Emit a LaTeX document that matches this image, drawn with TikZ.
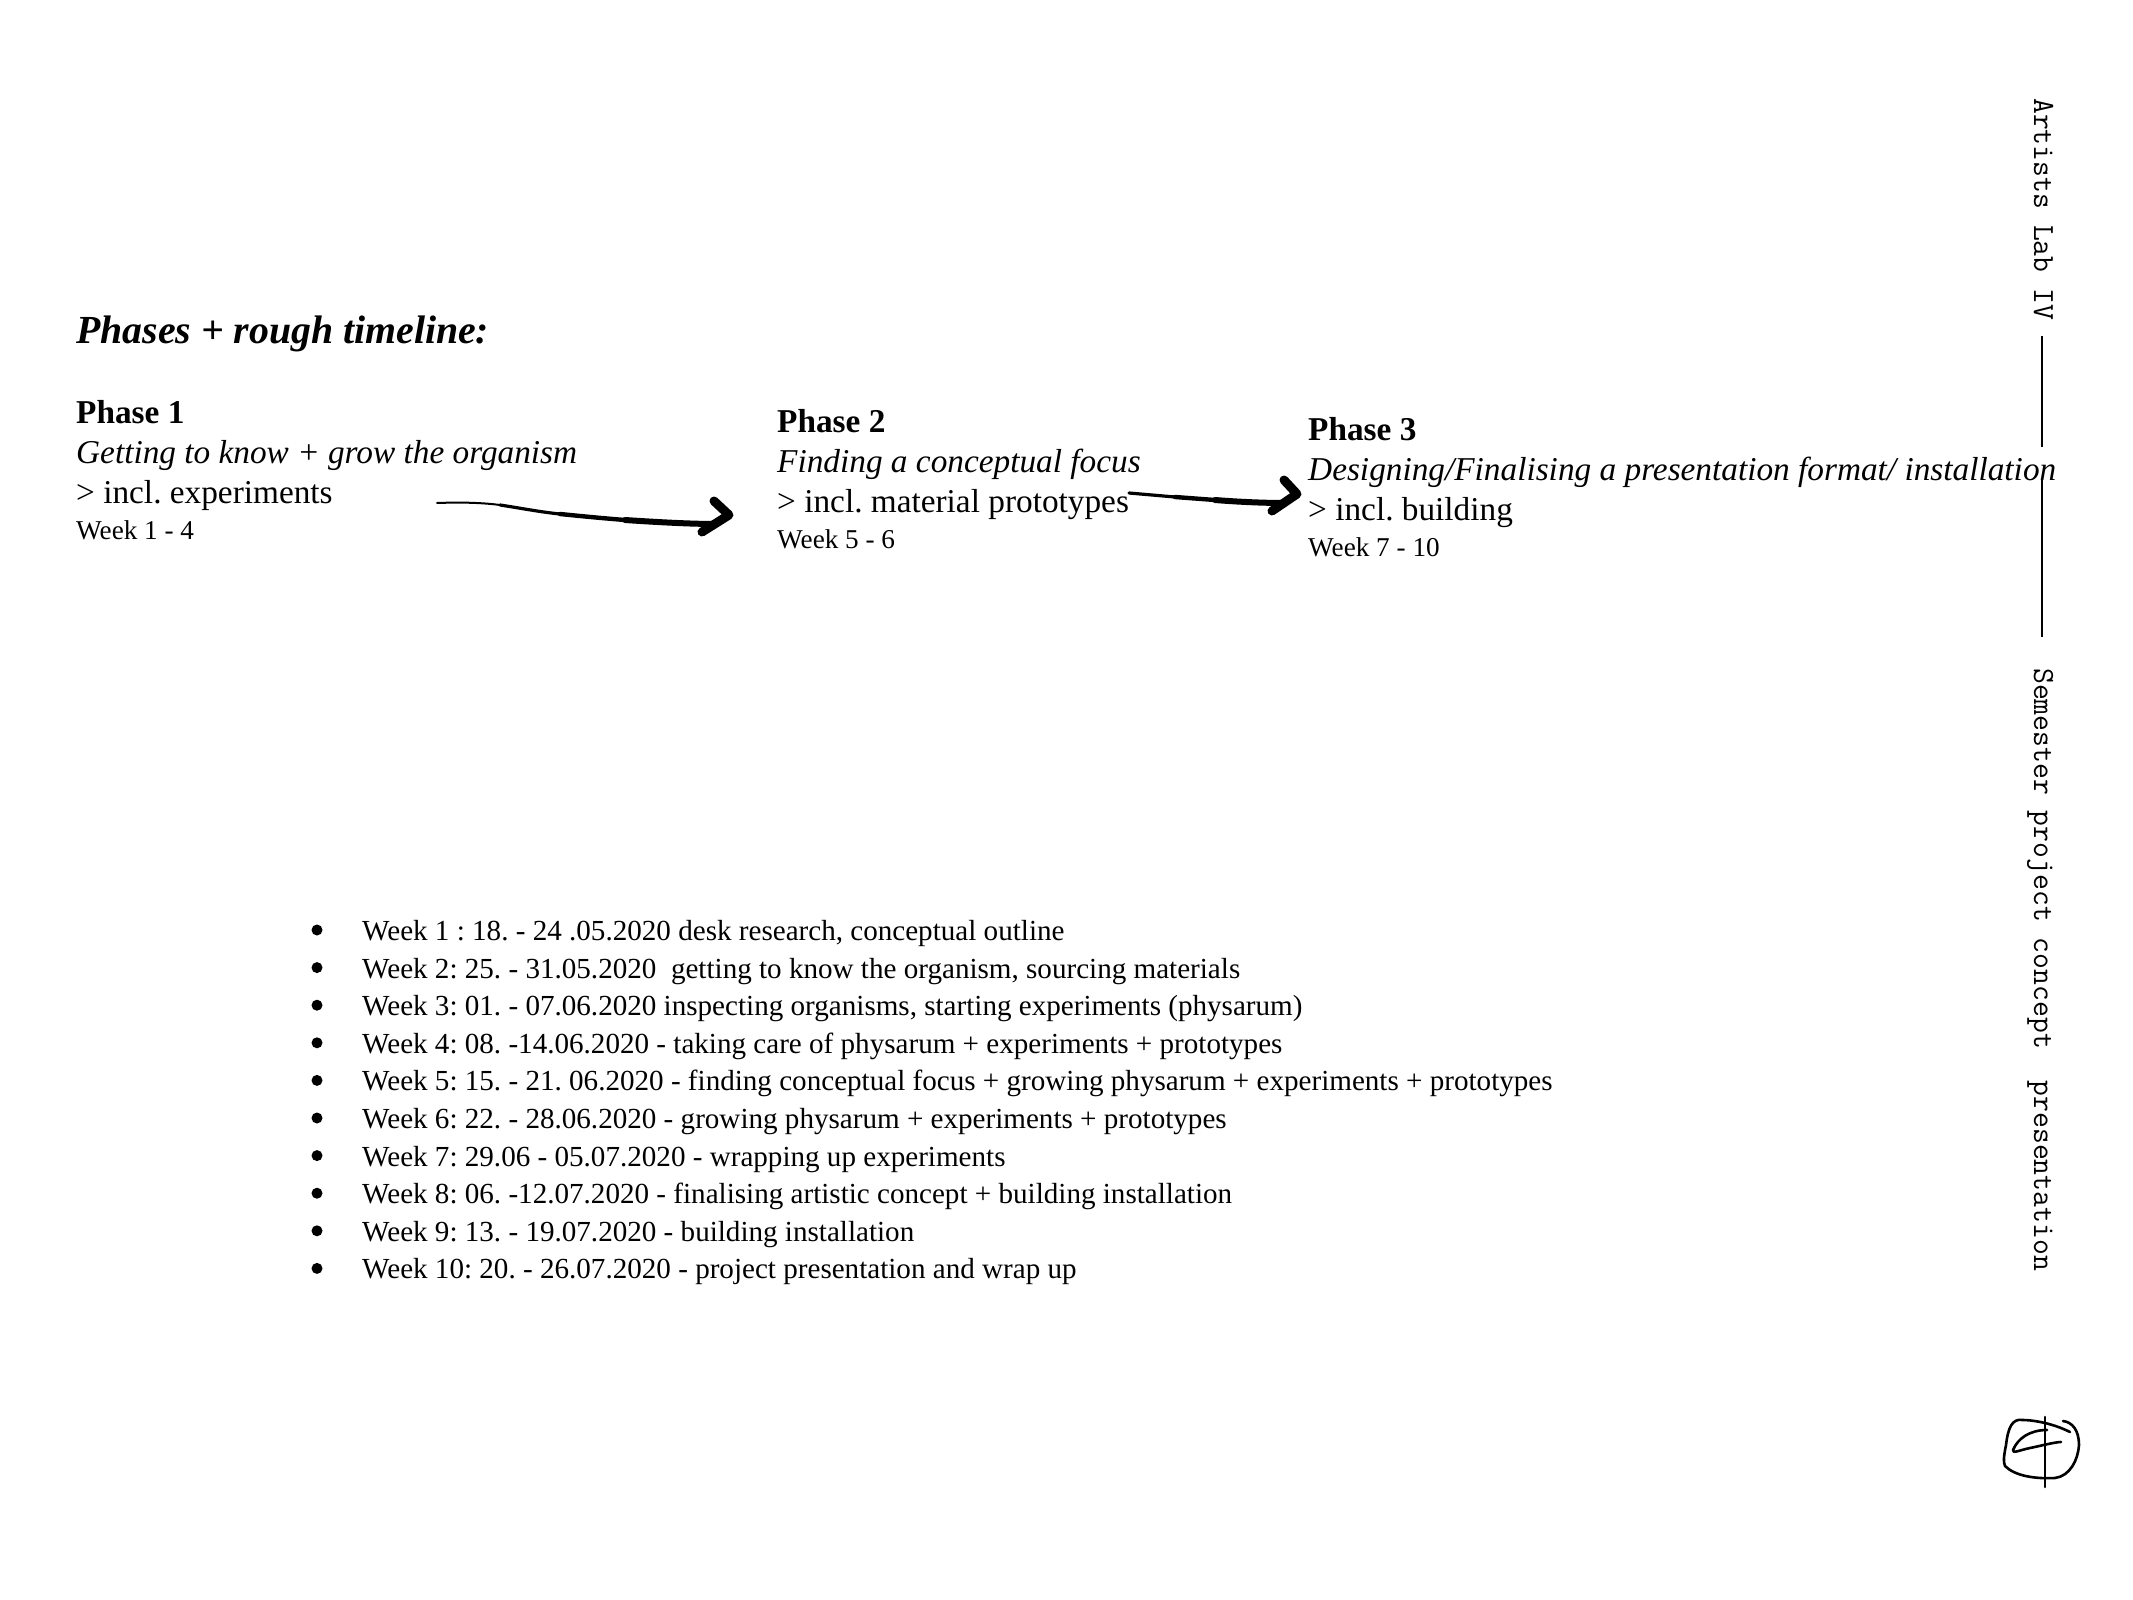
\documentclass[tikz,border=0pt]{standalone}
\usepackage{fontspec}
\setmainfont{Liberation Serif}
\usetikzlibrary{positioning}

\begin{document}
\frenchspacing
\begin{tikzpicture}[
  x=1pt, y=-1pt,
  phase/.style={anchor=north west, align=left, inner sep=0pt, font=\fontsize{33.3}{40}\selectfont},
  side/.style={anchor=base west, rotate=-90, inner sep=0pt, font=\ttfamily\fontsize{30.8}{34}\selectfont},
  dot/.style={circle, fill=black, inner sep=0pt, minimum size=11pt},
  thin stem/.style={line width=2pt, line cap=round},
  stem/.style={line width=3.2pt, line cap=round},
  mid stem/.style={line width=4.4pt, line cap=round},
  brush/.style={line width=6pt, line cap=round},
  head/.style={line width=9pt, line cap=round, line join=round},
  rule/.style={line width=1.1pt},
  logo/.style={line width=2.6pt, line cap=round, line join=round}
]
\useasboundingbox (0,0) rectangle (2133,1600);

\node[anchor=base west, inner sep=0pt, font=\bfseries\itshape\fontsize{39.8}{46}\selectfont] (title) at (76,343) {Phases + rough timeline:};

\node[phase] (phaseone) at (76,400) {\textbf{Phase 1}\\\textit{Getting to know + grow the organism}\\> incl. experiments\\[-4pt]{\fontsize{27.2}{34}\selectfont Week 1 - 4}};
\node[phase] (phasetwo) at (777,409) {\textbf{Phase 2}\\\textit{Finding a conceptual focus}\\> incl. material prototypes\\[-4pt]{\fontsize{27.2}{34}\selectfont Week 5 - 6}};
\node[phase] (phasethree) at (1308,417) {\textbf{Phase 3}\\\textit{Designing/Finalising a presentation format/ installation}\\> incl. building\\[-4pt]{\fontsize{27.2}{34}\selectfont Week 7 - 10}};

% hand drawn arrows
\coordinate (onestart) at (437,503);
\coordinate (onefirst) at (500,505);
\coordinate (onesecond) at (560,514);
\coordinate (onemid) at (625,520);
\coordinate (onejoin) at (716,524);
\coordinate (onetip) at (729,515);
\coordinate (onetop) at (714,501);
\coordinate (onebot) at (702,532);
\coordinate (twostart) at (1129,493);
\coordinate (twofirst) at (1175,497);
\coordinate (twomid) at (1215,500);
\coordinate (twojoin) at (1285,503);
\coordinate (twotip) at (1297,494);
\coordinate (twotop) at (1284,480);
\coordinate (twobot) at (1272,511);

\draw[thin stem] (onestart) .. controls (465,502) and (485,503) .. (onefirst);
\draw[stem] (onefirst) .. controls (520,508) and (540,512) .. (onesecond);
\draw[mid stem] (onesecond) .. controls (580,516) and (600,518) .. (onemid);
\draw[brush] (onemid) .. controls (655,522) and (690,524) .. (onejoin);
\draw[head] (onetop) -- (onetip) -- (onebot);
\draw[stem] (twostart) -- (twofirst);
\draw[mid stem] (twofirst) -- (twomid);
\draw[brush] (twomid) .. controls (1240,502) and (1265,503) .. (twojoin);
\draw[head] (twotop) -- (twotip) -- (twobot);

% schedule
\node[anchor=north west, align=left, inner sep=0pt, font=\fontsize{29.1}{37.6}\selectfont] (weeks) at (362,920) {%
Week 1 : 18. - 24 .05.2020 desk research, conceptual outline\\
Week 2: 25. - 31.05.2020 \ getting to know the organism, sourcing materials\\
Week 3: 01. - 07.06.2020 inspecting organisms, starting experiments (physarum)\\
Week 4: 08. -14.06.2020 - taking care of physarum + experiments + prototypes\\
Week 5: 15. - 21. 06.2020 - finding conceptual focus + growing physarum + experiments + prototypes\\
Week 6: 22. - 28.06.2020 - growing physarum + experiments + prototypes\\
Week 7: 29.06 - 05.07.2020 - wrapping up experiments\\
Week 8: 06. -12.07.2020 - finalising artistic concept + building installation\\
Week 9: 13. - 19.07.2020 - building installation\\
Week 10: 20. - 26.07.2020 - project presentation and wrap up};
\foreach \i in {0,...,9}
  \node[dot] (dot\i) at (317,930+37.6*\i) {};

% side line
\node[side] (sidelab) at (2034,98) {Artists Lab IV};
\node[side] (sidesem) at (2034,668) {Semester project concept \ presentation};
\coordinate (linetop) at (2042,336);
\coordinate (gaptop) at (2042,447);
\coordinate (gapbot) at (2042,478);
\coordinate (linebot) at (2042,637);
\draw[rule] (linetop) -- (gaptop);
\draw[rule] (gapbot) -- (linebot);

% logo
\draw[logo] (2070,1432) .. controls (2050,1422) and (2030,1420) .. (2023,1420) .. controls (2012,1418) and (2008,1428) .. (2006,1445) .. controls (2004,1455) and (2003,1462) .. (2005,1466) .. controls (2015,1476) and (2035,1479) .. (2055,1478) .. controls (2070,1476) and (2078,1460) .. (2079,1445) .. controls (2079,1430) and (2072,1422) .. (2063,1421);
\draw[logo] (2045,1417) -- (2045,1487);
\draw[logo] (2047,1430) .. controls (2030,1430) and (2018,1438) .. (2013,1450) .. controls (2012,1454) and (2020,1450) .. (2030,1448) .. controls (2040,1446) and (2055,1442) .. (2061,1442);
\end{tikzpicture}
\end{document}
